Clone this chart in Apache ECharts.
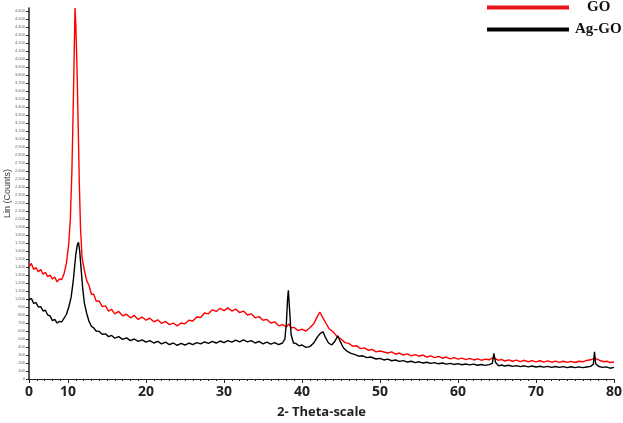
<!DOCTYPE html>
<html>
<head>
<meta charset="utf-8">
<script src="https://cdn.jsdelivr.net/npm/echarts@6/dist/echarts.min.js"></script>
<style>html,body{margin:0;padding:0;background:#fff}#c{width:623px;height:423px}</style>
</head>
<body>
<div id="c"></div>
<script>
const seriesNames = ['GO', 'Ag-GO'];
const xTickLabels = {5: '0', 80: '80'};
const goData = [[5,1400],[5.3,1445],[5.6,1370],[5.9,1395],[6.2,1340],[6.5,1370],[6.8,1310],[7.1,1335],[7.4,1280],[7.7,1300],[8,1250],[8.3,1275],[8.6,1215],[8.9,1250],[9.2,1245],[9.5,1320],[9.8,1450],[10.1,1700],[10.3,2000],[10.5,2600],[10.65,3300],[10.8,4100],[10.9,4640],[11,4450],[11.15,3900],[11.3,3200],[11.45,2450],[11.6,1900],[11.8,1520],[12.1,1360],[12.4,1230],[12.7,1170],[13,1060],[13.3,1060],[13.6,975],[14,975],[14.4,905],[14.8,915],[15.2,850],[15.6,870],[16,815],[16.5,845],[17,790],[17.5,810],[18,765],[18.5,795],[19,745],[19.5,775],[20,735],[20.5,760],[21,715],[21.5,740],[22,695],[22.5,720],[23,680],[23.5,700],[24,665],[24.5,700],[25,690],[25.5,735],[26,725],[26.5,775],[27,770],[27.5,825],[28,815],[28.5,865],[29,845],[29.5,885],[30,855],[30.5,890],[31,850],[31.5,875],[32,830],[32.5,850],[33,800],[33.5,815],[34,765],[34.5,780],[35,735],[35.5,745],[36,700],[36.5,715],[37,665],[37.5,680],[38,650],[38.3,690],[38.6,640],[39,645],[39.5,605],[40,625],[40.5,600],[41,640],[41.5,690],[42,790],[42.3,835],[42.6,780],[43,710],[43.5,625],[44,590],[44.5,530],[45,500],[45.5,455],[46,445],[46.5,410],[47,415],[47.5,380],[48,390],[48.5,360],[49,370],[49.5,340],[50,350],[51,325],[51.5,340],[52,310],[52.5,325],[53,300],[53.5,315],[54,290],[54.5,305],[55,285],[55.5,300],[56,275],[56.5,290],[57,268],[57.5,282],[58,260],[58.5,275],[59,252],[59.5,268],[60,248],[60.5,262],[61,242],[61.5,258],[62,238],[62.5,252],[63,235],[63.5,248],[64,240],[64.5,268],[64.8,255],[65.2,232],[65.6,245],[66,225],[66.5,240],[67,222],[67.5,236],[68,218],[68.5,234],[69,216],[69.5,230],[70,214],[70.5,228],[71,212],[71.5,226],[72,210],[72.5,224],[73,208],[73.5,222],[74,208],[74.5,220],[75,206],[75.5,222],[76,215],[76.5,232],[77,240],[77.5,262],[77.9,245],[78.3,228],[78.7,216],[79.1,222],[79.5,206],[80,212]];
const agGoData = [[5,990],[5.3,1010],[5.6,945],[5.9,955],[6.2,900],[6.5,905],[6.8,850],[7.1,860],[7.4,800],[7.7,790],[8,730],[8.3,745],[8.6,700],[8.9,720],[9.2,715],[9.5,760],[9.8,810],[10.1,900],[10.4,1020],[10.7,1250],[11,1560],[11.2,1680],[11.35,1710],[11.5,1600],[11.7,1350],[11.9,1120],[12.1,950],[12.4,820],[12.7,720],[13,660],[13.3,640],[13.6,600],[14,595],[14.4,560],[14.8,565],[15.2,530],[15.6,545],[16,510],[16.5,530],[17,495],[17.5,515],[18,480],[18.5,500],[19,470],[19.5,490],[20,460],[20.5,480],[21,450],[21.5,470],[22,440],[22.5,460],[23,430],[23.5,450],[24,420],[24.5,445],[25,425],[25.5,450],[26,430],[26.5,455],[27,440],[27.5,465],[28,445],[28.5,470],[29,450],[29.5,475],[30,455],[30.5,480],[31,460],[31.5,485],[32,465],[32.5,490],[33,465],[33.5,480],[34,450],[34.5,470],[35,440],[35.5,460],[36,435],[36.5,455],[37,430],[37.5,450],[37.8,500],[38,700],[38.15,1000],[38.25,1110],[38.4,880],[38.6,560],[38.9,450],[39.2,445],[39.6,415],[40,425],[40.5,395],[41,405],[41.5,450],[42,530],[42.4,575],[42.7,590],[43,520],[43.4,450],[43.8,425],[44.2,470],[44.6,540],[44.9,470],[45.3,390],[45.8,345],[46.3,320],[46.8,305],[47.3,285],[47.8,290],[48.3,268],[48.8,275],[49.5,250],[50,258],[50.5,238],[51,248],[51.5,228],[52,238],[52.5,220],[53,230],[53.5,212],[54,222],[54.5,205],[55,215],[55.5,200],[56,210],[56.5,195],[57,205],[57.5,190],[58,200],[58.5,186],[59,196],[59.5,182],[60,192],[60.5,178],[61,188],[61.5,176],[62,186],[62.5,172],[63,182],[63.5,170],[64,180],[64.4,195],[64.6,320],[64.8,210],[65.2,165],[65.6,175],[66,162],[66.5,172],[67,158],[67.5,168],[68,155],[68.5,165],[69,152],[69.5,162],[70,150],[70.5,160],[71,148],[71.5,158],[72,146],[72.5,156],[73,145],[73.5,155],[74,143],[74.5,153],[75,142],[75.5,152],[76,142],[76.5,150],[77,158],[77.35,185],[77.5,340],[77.65,190],[78,160],[78.5,145],[79,152],[79.5,135],[80,145]];

const chart = echarts.init(document.getElementById('c'), null, {renderer: 'canvas'});
chart.setOption({
  animation: false,
  backgroundColor: '#fff',
  grid: {left: 29, right: 9, top: 8, bottom: 44, containLabel: false, outerBoundsMode: 'none'},
  legend: {
    orient: 'vertical', left: 482, top: -5, itemGap: 7,
    icon: 'rect', itemWidth: 82, itemHeight: 4, textGap: 3,
    data: seriesNames,
    formatter: name => (name === 'GO' ? '{g|GO}' : '{a|Ag-GO}'),
    textStyle: {
      fontFamily: 'Liberation Serif', fontWeight: 'bold', fontSize: 15, color: '#111',
      rich: {
        g: {fontFamily: 'Liberation Serif', fontWeight: 'bold', fontSize: 15, color: '#111', padding: [0, 0, 0, 13]},
        a: {fontFamily: 'Liberation Serif', fontWeight: 'bold', fontSize: 15, color: '#111', padding: [0, 0, 0, 1]}
      }
    }
  },
  xAxis: {
    type: 'value', min: 5, max: 80, splitNumber: 8,
    name: '2- Theta-scale', nameLocation: 'middle', nameGap: 27,
    nameTextStyle: {fontFamily: 'Open Sans', fontWeight: 'bold', fontSize: 13, color: '#222'},
    axisLine: {lineStyle: {color: '#222', width: 1}},
    axisTick: {show: true, length: 4, lineStyle: {color: '#222'}},
    minorTick: {show: true, splitNumber: 10, length: 2, lineStyle: {color: '#222'}},
    splitLine: {show: false},
    axisLabel: {
      margin: 6, fontFamily: 'Open Sans', fontWeight: 'bold', fontSize: 14, color: '#222',
      formatter: v => (xTickLabels[v] !== undefined ? xTickLabels[v] : String(v))
    }
  },
  yAxis: {
    type: 'value', min: 0, max: 4640, interval: 100,
    name: 'Lin (Counts)', nameLocation: 'middle', nameGap: 17, nameMoveOverlap: false,
    nameTextStyle: {fontFamily: 'Arial, Liberation Sans', fontSize: 9, color: '#333'},
    axisLine: {show: true, lineStyle: {color: '#222', width: 1.5}},
    axisTick: {show: true, length: 3, lineStyle: {color: '#222'}},
    splitLine: {show: false},
    axisLabel: {margin: 4, fontSize: 4, color: '#666', showMaxLabel: false}
  },
  series: [
    {name: 'GO', type: 'line', data: goData, showSymbol: false, symbol: 'none',
     lineStyle: {color: '#ff0000', width: 1.4}, itemStyle: {color: '#e8141b'}, z: 2},
    {name: 'Ag-GO', type: 'line', data: agGoData, showSymbol: false, symbol: 'none',
     lineStyle: {color: '#000', width: 1.4}, itemStyle: {color: '#000'}, z: 3}
  ]
});
</script>
</body>
</html>
